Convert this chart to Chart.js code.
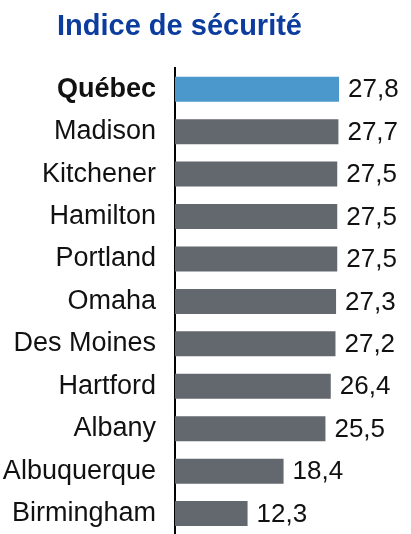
<!DOCTYPE html>
<html>
<head>
<meta charset="utf-8">
<script src="https://cdn.jsdelivr.net/npm/chart.js@4"></script>
<style>
  html, body { margin: 0; padding: 0; background: #fff; overflow: hidden; }
  canvas { display: block; }
</style>
</head>
<body>
<canvas id="chart" width="411" height="570"></canvas>
<script>
// Chart data
const cities = ['Québec', 'Madison', 'Kitchener', 'Hamilton', 'Portland', 'Omaha',
  'Des Moines', 'Hartford', 'Albany', 'Albuquerque', 'Birmingham'];
const safetyIndex = [27.8, 27.7, 27.5, 27.5, 27.5, 27.3, 27.2, 26.4, 25.5, 18.4, 12.3];
const titleText = 'Indice de sécurité';

const fontFamily = "'Liberation Sans', Arial, sans-serif";
const highlightColor = '#4b98cc';
const barColor = '#63686e';

// Title drawn at the top left, like the original
const titlePlugin = {
  id: 'leftTitle',
  afterDraw(chart) {
    const { ctx } = chart;
    ctx.save();
    ctx.font = `bold 29px ${fontFamily}`;
    ctx.fillStyle = '#0c3d9e';
    ctx.textBaseline = 'alphabetic';
    ctx.textAlign = 'left';
    ctx.fillText(titleText, 57, 35);
    ctx.restore();
  },
};

// Value labels at the end of each bar
const valueLabels = {
  id: 'valueLabels',
  afterDatasetsDraw(chart) {
    const { ctx } = chart;
    const meta = chart.getDatasetMeta(0);
    ctx.save();
    ctx.font = `26px ${fontFamily}`;
    ctx.fillStyle = '#111';
    ctx.textBaseline = 'middle';
    ctx.textAlign = 'left';
    meta.data.forEach((bar, i) => {
      const txt = safetyIndex[i].toFixed(1).replace('.', ',');
      ctx.fillText(txt, bar.x + 9, bar.y + 1);
    });
    ctx.restore();
  },
};

// eslint-disable-next-line no-new
new Chart(document.getElementById('chart'), {
  type: 'bar',
  data: {
    labels: cities,
    datasets: [{
      data: safetyIndex,
      backgroundColor: cities.map((c, i) => (i === 0 ? highlightColor : barColor)),
      borderWidth: 0,
      categoryPercentage: 1,
      barPercentage: 0.59,
    }],
  },
  options: {
    indexAxis: 'y',
    responsive: false,
    animation: false,
    layout: { padding: { top: 68, right: 0, bottom: 4, left: 0 } },
    plugins: {
      legend: { display: false },
      title: { display: false },
      tooltip: { enabled: false },
    },
    scales: {
      x: {
        display: false,
        min: 0,
        max: 40,
      },
      y: {
        afterFit(scale) { scale.width = 175; },
        grid: { drawOnChartArea: false, drawTicks: false },
        border: { display: true, color: '#000', width: 2 },
        ticks: {
          padding: 19,
          color: '#111',
          font: (ctx) => ({
            family: fontFamily,
            size: 27,
            weight: ctx.index === 0 ? 'bold' : 'normal',
          }),
        },
      },
    },
  },
  plugins: [titlePlugin, valueLabels],
});
</script>
</body>
</html>
